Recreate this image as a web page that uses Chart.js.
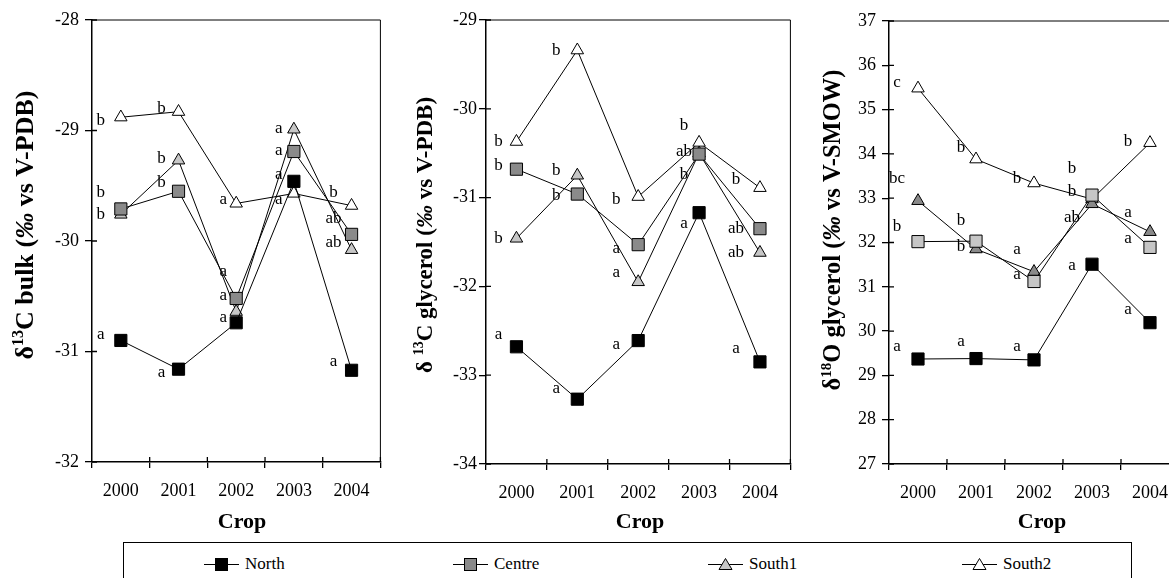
<!DOCTYPE html>
<html>
<head>
<meta charset="utf-8">
<script src="https://cdn.jsdelivr.net/npm/chart.js@4.4.1/dist/chart.umd.min.js"></script>
<style>
    body { margin: 0; width: 1169px; height: 578px; overflow: hidden; background: #fff; position: relative; font-family: "Liberation Serif", serif; }
    canvas { position: absolute; top: 0; }
    #legenda { position: absolute; left: 123px; top: 542px; width: 1009px; height: 50px; border: 1px solid #000; box-sizing: border-box; }
    .leg-item { position: absolute; top: 11px; height: 20px; display: flex; align-items: center; font-size: 17px; color: #000; }
    .leg-item svg { margin-right: 5px; }
</style>
</head>
<body>
<canvas id="painel1" width="390" height="540" style="left:0px"></canvas>
<canvas id="painel2" width="410" height="540" style="left:390px"></canvas>
<canvas id="painel3" width="400" height="540" style="left:795px"></canvas>
<div id="legenda"></div>

<script>
//  -- dados --
const years = ['2000', '2001', '2002', '2003', '2004'];
const seriesNames = ['North', 'Centre', 'South1', 'South2'];

// painel 1: d13C bulk
const bulkNorth  = [-30.90, -31.16, -30.74, -29.46, -31.17];
const bulkCentre = [-29.71, -29.55, -30.52, -29.19, -29.94];
const bulkSouth1 = [-29.76, -29.27, -30.64, -28.99, -30.08];
const bulkSouth2 = [-28.88, -28.83, -29.66, -29.57, -29.68];
const bulkTicks  = [-32, -31, -30, -29, -28];
const bulkLetters = [
    ['a', 'a', 'a', 'a', 'a'],
    ['b', 'b', 'a', 'a', 'ab'],
    ['b', 'b', 'a', 'a', 'ab'],
    ['b', 'b', 'a', 'a', 'b']
];

// painel 2: d13C glycerol
const glyCNorth  = [-32.68, -33.27, -32.61, -31.17, -32.85];
const glyCCentre = [-30.68, -30.96, -31.53, -30.51, -31.35];
const glyCSouth1 = [-31.46, -30.75, -31.95, -30.50, -31.62];
const glyCSouth2 = [-30.37, -29.34, -30.99, -30.38, -30.89];
const glyCTicks  = [-34, -33, -32, -31, -30, -29];
const glyCLetters = [
    ['a', 'a', 'a', 'a', 'a'],
    ['b', 'b', 'a', 'ab', 'ab'],
    ['b', 'b', 'a', 'b', 'ab'],
    ['b', 'b', 'b', 'b', 'b']
];

// painel 3: d18O glycerol
const glyONorth  = [29.37, 29.38, 29.35, 31.51, 30.19];
const glyOCentre = [32.02, 32.03, 31.12, 33.07, 31.89];
const glyOSouth1 = [32.94, 31.85, 31.34, 32.87, 32.24];
const glyOSouth2 = [35.48, 33.88, 33.34, 32.98, 34.25];
const glyOTicks  = [27, 28, 29, 30, 31, 32, 33, 34, 35, 36, 37];
const glyOLetters = [
    ['a', 'a', 'a', 'a', 'a'],
    ['b', 'b', 'a', 'ab', 'a'],
    ['bc', 'b', 'a', 'b', 'a'],
    ['c', 'b', 'b', 'b', 'b']
];

//  -- estilos --
const FONTE = 'Liberation Serif';
const CINZA_ESCURO = '#8a8a8a';
const CINZA_CLARO = '#c6c6c6';
Chart.defaults.font.family = FONTE;
Chart.defaults.color = '#000';

// posição das letras em relação ao ponto (px)
const bulkDx = [-20, -17, -13, -15, -18];
const bulkDy = [
    [-6, 3, -5, -7, -9],
    [-16, -9, -3, -1, -16],
    [0, -2, -40, -1, -7],
    [3, -3, -4, 6, -13]
];
const glyCDx = [-18, -21, -22, -15, -24];
const glyCDy = [
    [-12, -11, 4, 11, -13],
    [-4, 1, 4, -3, 0],
    [0, -5, -9, 21, 0],
    [0, 0, 3, -17, -8]
];
const glyODx = [-21, -15, -17, -20, -22];
const glyODy = [
    [-12, -17, -13, 1, -13],
    [-15, 5, -7, 22, -9],
    [-22, -29, -22, -12, -19],
    [-6, -12, -5, -31, -1]
];

// letras de significância
const letrasPlugin = {
    id: 'letras',
    afterDatasetsDraw(chart, args, o) {
        const ctx = chart.ctx;
        ctx.save();
        ctx.font = '17px "' + FONTE + '"';
        ctx.fillStyle = '#000';
        ctx.textAlign = 'center';
        ctx.textBaseline = 'middle';
        o.letters.forEach((row, i) => {
            const meta = chart.getDatasetMeta(i);
            row.forEach((txt, j) => {
                const pt = meta.data[j];
                ctx.fillText(txt, pt.x + o.dx[j], pt.y + o.dy[i][j]);
            });
        });
        ctx.restore();
    }
};

// moldura + ticks cruzando o eixo + títulos
const molduraPlugin = {
    id: 'moldura',
    afterDraw(chart, args, o) {
        const ctx = chart.ctx;
        const a = chart.chartArea;
        ctx.save();
        ctx.strokeStyle = '#000';
        ctx.lineWidth = 1;
        ctx.beginPath();
        ctx.moveTo(a.left, a.top);
        ctx.lineTo(a.right, a.top);
        ctx.lineTo(a.right, a.bottom);
        ctx.stroke();

        // parte interna dos ticks
        ctx.lineWidth = 1.3;
        ctx.beginPath();
        const step = (a.right - a.left) / years.length;
        for (let k = 1; k <= years.length; k++) {
            const x = a.left + k * step;
            ctx.moveTo(x, a.bottom);
            ctx.lineTo(x, a.bottom - 5);
        }
        o.ticks.forEach(v => {
            const y = chart.scales.y.getPixelForValue(v);
            ctx.moveTo(a.left, y);
            ctx.lineTo(a.left + 5, y);
        });
        ctx.stroke();

        // título do eixo x
        ctx.fillStyle = '#000';
        ctx.font = 'bold 22px "' + FONTE + '"';
        ctx.textAlign = 'center';
        ctx.textBaseline = 'middle';
        ctx.fillText('Crop', o.cropX, 522);

        // título do eixo y (texto rico girado)
        drawRich(ctx, o.yTitle, o.titleX, o.titleY, o.titleSize);
        ctx.restore();
    }
};

function fontFor(seg, size) {
    const sz = seg.sup ? Math.round(size * 0.62) : size;
    return (seg.italic ? 'italic ' : '') + 'bold ' + sz + 'px "' + FONTE + '"';
}

function drawRich(ctx, segs, x, cy, size) {
    ctx.save();
    ctx.translate(x, cy);
    ctx.rotate(-Math.PI / 2);
    ctx.textAlign = 'left';
    ctx.textBaseline = 'alphabetic';
    let total = 0;
    const widths = segs.map(s => {
        ctx.font = fontFor(s, size);
        const w = ctx.measureText(s.t).width;
        total += w;
        return w;
    });
    let pos = -total / 2;
    segs.forEach((s, i) => {
        ctx.font = fontFor(s, size);
        ctx.fillText(s.t, pos, s.sup ? -size * 0.38 : 0);
        pos += widths[i];
    });
    ctx.restore();
}

function makeDatasets(values, fills) {
    const shapes = ['rect', 'rect', 'triangle', 'triangle'];
    return values.map((vals, i) => ({
        label: seriesNames[i],
        data: vals,
        borderColor: '#000',
        borderWidth: 1,
        pointStyle: shapes[i],
        pointRadius: shapes[i] === 'rect' ? 8.6 : 7.2,
        pointBackgroundColor: fills[i],
        pointBorderColor: '#000',
        pointBorderWidth: 1,
        tension: 0
    }));
}

function makePanel(id, cfg) {
    const ctx = document.getElementById(id).getContext('2d');
    const eixo = { color: '#000', font: { family: FONTE, size: 18 } };
    return new Chart(ctx, {
        type: 'line',
        data: { labels: years, datasets: makeDatasets(cfg.values, cfg.fills) },
        options: {
            responsive: false,
            animation: false,
            layout: { padding: { top: cfg.top, right: cfg.right, left: 0, bottom: 0 } },
            plugins: {
                legend: { display: false },
                tooltip: { enabled: false },
                letras: { letters: cfg.letters, dx: cfg.dx, dy: cfg.dy },
                moldura: { ticks: cfg.ticks, cropX: cfg.cropX, yTitle: cfg.yTitle, titleX: cfg.titleX, titleY: cfg.titleY, titleSize: cfg.titleSize }
            },
            scales: {
                x: {
                    offset: true,
                    grid: { offset: true, drawOnChartArea: false, tickLength: 6, color: '#000', lineWidth: 1.3 },
                    border: { color: '#000', width: 1.5 },
                    ticks: { ...eixo, padding: 12, maxRotation: 0 },
                    afterFit: s => { s.height = cfg.xh; }
                },
                y: {
                    min: cfg.ticks[0],
                    max: cfg.ticks[cfg.ticks.length - 1],
                    afterBuildTicks: s => { s.ticks = cfg.ticks.map(v => ({ value: v })); },
                    grid: { drawOnChartArea: false, tickLength: 7, color: '#000', lineWidth: 1.3 },
                    border: { color: '#000', width: 1.5 },
                    ticks: { ...eixo, padding: cfg.ypad },
                    afterFit: s => { s.width = cfg.yw; }
                }
            }
        },
        plugins: [letrasPlugin, molduraPlugin]
    });
}

// legenda
function montarLegenda() {
    const box = document.getElementById('legenda');
    const fills = ['#000', CINZA_ESCURO, CINZA_CLARO, '#fff'];
    const shapes = ['rect', 'rect', 'triangle', 'triangle'];
    const lefts = [80, 329, 584, 838];
    seriesNames.forEach((nome, i) => {
        const div = document.createElement('div');
        div.className = 'leg-item';
        div.style.left = lefts[i] + 'px';
        let marker;
        if (shapes[i] === 'rect') {
            marker = `<rect x="11.5" y="3.5" width="12" height="12" fill="${fills[i]}" stroke="#000" stroke-width="1"/>`;
        } else {
            marker = `<polygon points="17.5,3.5 24,14.5 11,14.5" fill="${fills[i]}" stroke="#000" stroke-width="1"/>`;
        }
        div.innerHTML = `<svg width="36" height="19"><line x1="0" y1="9.5" x2="35" y2="9.5" stroke="#000" stroke-width="1.2"/>${marker}</svg><span>${nome}</span>`;
        box.appendChild(div);
    });
}

window.onload = () => {
    makePanel('painel1', {
        values: [bulkNorth, bulkCentre, bulkSouth1, bulkSouth2],
        fills: ['#000', CINZA_ESCURO, CINZA_CLARO, '#fff'],
        ticks: bulkTicks, letters: bulkLetters, dx: bulkDx, dy: bulkDy,
        top: 20, right: 4, xh: 78, yw: 92, ypad: 6,
        cropX: 242, titleX: 33, titleY: 225, titleSize: 26,
        yTitle: [{ t: 'δ' }, { t: '13', sup: true }, { t: 'C bulk (' }, { t: '‰', italic: true }, { t: ' vs V-PDB)' }]
    });
    makePanel('painel2', {
        values: [glyCNorth, glyCCentre, glyCSouth1, glyCSouth2],
        fills: ['#000', CINZA_ESCURO, CINZA_CLARO, '#fff'],
        ticks: glyCTicks, letters: glyCLetters, dx: glyCDx, dy: glyCDy,
        top: 20, right: 8, xh: 76, yw: 96, ypad: 2,
        cropX: 250, titleX: 42, titleY: 235, titleSize: 23,
        yTitle: [{ t: 'δ ' }, { t: '13', sup: true }, { t: 'C glycerol (' }, { t: '‰', italic: true }, { t: ' vs V-PDB)' }]
    });
    makePanel('painel3', {
        values: [glyONorth, glyOCentre, glyOSouth1, glyOSouth2],
        fills: ['#000', CINZA_CLARO, CINZA_ESCURO, '#fff'],
        ticks: glyOTicks, letters: glyOLetters, dx: glyODx, dy: glyODy,
        top: 21, right: 16, xh: 76, yw: 94, ypad: 6,
        cropX: 247, titleX: 45, titleY: 230, titleSize: 24.5,
        yTitle: [{ t: 'δ' }, { t: '18', sup: true }, { t: 'O glycerol (' }, { t: '‰', italic: true }, { t: ' vs V-SMOW)' }]
    });
    montarLegenda();
};
</script>
</body>
</html>
